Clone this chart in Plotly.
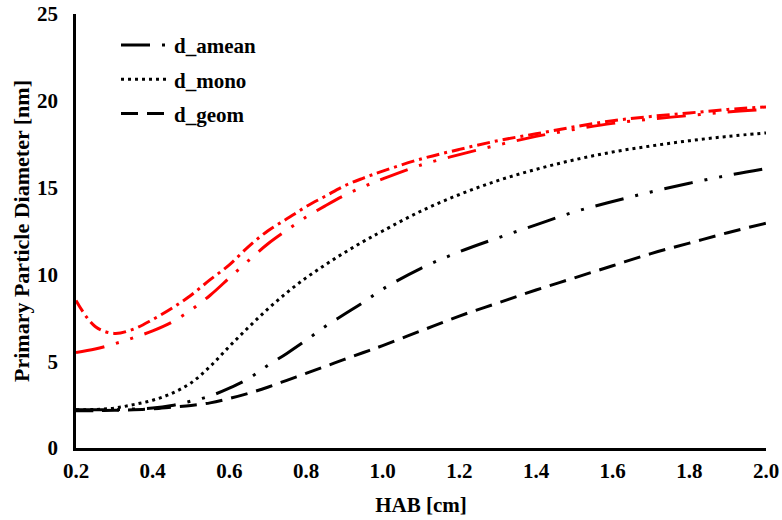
import plotly.graph_objects as go

hab = [0.2, 0.25, 0.3, 0.35, 0.4, 0.45, 0.5, 0.55, 0.6, 0.65, 0.7, 0.75, 0.8, 0.85, 0.9, 0.95,
       1.0, 1.1, 1.2, 1.3, 1.4, 1.5, 1.6, 1.7, 1.8, 1.9, 2.0]

d_amean = [2.2, 2.2, 2.2, 2.25, 2.3, 2.45, 2.7, 3.0, 3.45, 4.0, 4.75, 5.45, 6.2, 7.0, 7.7, 8.4,
           9.15, 10.35, 11.3, 12.1, 12.85, 13.6, 14.2, 14.75, 15.25, 15.7, 16.1]
d_mono = [2.2, 2.22, 2.3, 2.5, 2.75, 3.15, 3.75, 4.7, 5.85, 6.95, 8.0, 8.95, 9.8, 10.55, 11.25, 11.9,
          12.5, 13.65, 14.6, 15.4, 16.05, 16.6, 17.05, 17.4, 17.7, 17.95, 18.15]
d_geom = [2.15, 2.15, 2.17, 2.2, 2.25, 2.35, 2.45, 2.6, 2.85, 3.15, 3.5, 3.9, 4.3, 4.7, 5.1, 5.5,
          5.9, 6.75, 7.6, 8.35, 9.1, 9.8, 10.5, 11.2, 11.8, 12.4, 12.95]
red_upper = [8.5, 7.0, 6.6, 6.85, 7.4, 8.05, 8.8, 9.7, 10.55, 11.6, 12.5, 13.2, 13.9, 14.5, 15.1, 15.55,
             15.95, 16.65, 17.2, 17.7, 18.1, 18.5, 18.85, 19.1, 19.3, 19.5, 19.65]
red_lower = [5.5, 5.7, 6.0, 6.35, 6.75, 7.25, 7.95, 8.8, 9.8, 10.8, 11.75, 12.55, 13.3, 13.95, 14.55, 15.05,
             15.5, 16.3, 16.9, 17.45, 17.95, 18.35, 18.7, 18.95, 19.15, 19.35, 19.5]

x_ticks = [0.2, 0.4, 0.6, 0.8, 1.0, 1.2, 1.4, 1.6, 1.8, 2.0]
x_ticklabels = ["0.2", "0.4", "0.6", "0.8", "1.0", "1.2", "1.4", "1.6", "1.8", "2.0"]
y_ticks = [0, 5, 10, 15, 20, 25]

FONT = "Liberation Serif"
FS = 21

fig = go.Figure()
fig.add_trace(go.Scatter(x=hab, y=red_upper, mode="lines", showlegend=False,
                         line=dict(color="#ff0000", width=3, dash="13px,5px,3px,5px", shape="spline")))
fig.add_trace(go.Scatter(x=hab, y=red_lower, mode="lines", showlegend=False,
                         line=dict(color="#ff0000", width=3, dash="29px,12px,3px,12px,3px,12px", shape="spline")))
fig.add_trace(go.Scatter(x=hab, y=d_amean, mode="lines", name="d_amean", legendgroup="a",
                         line=dict(color="black", width=3, dash="29px,12px,3px,12px,3px,12px", shape="spline")))
fig.add_trace(go.Scatter(x=hab, y=d_mono, mode="lines", name="d_mono", legendgroup="b",
                         line=dict(color="black", width=3, dash="3px,4px", shape="spline")))
fig.add_trace(go.Scatter(x=hab, y=d_geom, mode="lines", name="d_geom", legendgroup="c",
                         line=dict(color="black", width=3, dash="17px,9px", shape="spline")))

fig.update_layout(
    width=782, height=520,
    margin=dict(l=76, r=16, t=14, b=72),
    paper_bgcolor="white", plot_bgcolor="white",
    font=dict(family=FONT, size=FS, color="black"),
    showlegend=True,
    legend=dict(x=0.058, y=0.975, xanchor="left", yanchor="top", itemwidth=48,
                bgcolor="rgba(0,0,0,0)", traceorder="grouped", tracegroupgap=4,
                font=dict(family=FONT, size=FS, color="black", weight="bold")),
    xaxis=dict(range=[0.2, 2.0], tickvals=x_ticks, ticktext=x_ticklabels, automargin=False,
               ticklabeloverflow="allow",
               showgrid=False, zeroline=False, showline=True, linecolor="black", linewidth=2.5,
               ticks="", ticklabelstandoff=2,
               tickfont=dict(family=FONT, size=FS, weight="bold"),
               title=dict(text="HAB [cm]", font=dict(family=FONT, size=FS, weight="bold"), standoff=16)),
    yaxis=dict(range=[0, 25], tickvals=y_ticks, automargin=False,
               ticklabeloverflow="allow",
               showgrid=False, zeroline=False, showline=True, linecolor="black", linewidth=2.5,
               ticks="", ticklabelstandoff=11,
               tickfont=dict(family=FONT, size=FS, weight="bold"),
               title=dict(text="Primary Particle Diameter [nm]", font=dict(family=FONT, size=FS + 1, weight="bold"), standoff=2)),
)

fig.write_html("out.html", config={"displayModeBar": False},
               post_script="document.body.style.margin='0';")
